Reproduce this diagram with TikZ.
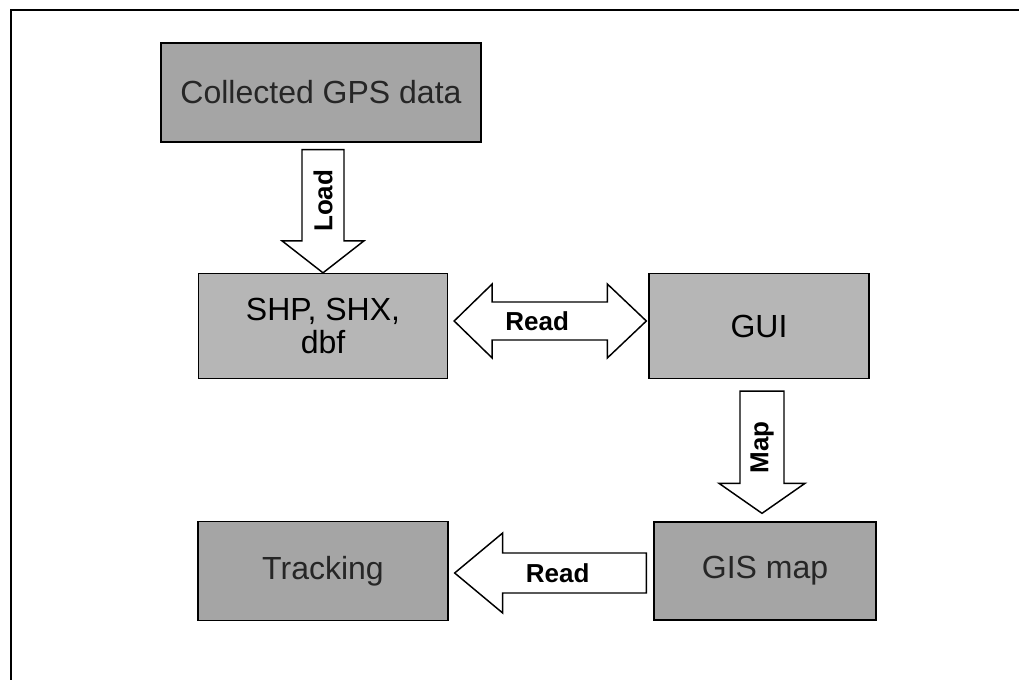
\documentclass[tikz,border=0pt]{standalone}
\usepackage{fontspec}
\setmainfont{Liberation Sans}
\usepackage{tikz}
\usetikzlibrary{calc}
\definecolor{boxdark}{RGB}{165,165,165}
\definecolor{boxlight}{RGB}{182,182,182}
\tikzset{%
  every box/.style={
    draw,
    line width=1pt,
    inner sep=0pt,
    align=center,
    font=\fontsize{24}{25}\selectfont
  },
  dark box/.style={every box, fill=boxdark, text=black!85},
  light box/.style={every box, fill=boxlight},
  block arrow/.style={draw, line width=1.1pt, fill=white, line join=miter},
  arrow label/.style={inner sep=0pt, font=\bfseries\fontsize{19.5}{20}\selectfont},
}

\begin{document}
\begin{tikzpicture}[x=0.75pt, y=-0.75pt]
\useasboundingbox (0,0) rectangle (1019,680);
\draw[line width=1.8pt] (11,680) -- (11,10) -- (1019,10);

% boxes
\node[dark box, minimum width=240pt, minimum height=74.25pt] (gps) at (321,92.5) {Collected GPS data};
\node[light box, minimum width=186.75pt, minimum height=78.75pt] (shp) at (323,326) {SHP, SHX,\\dbf};
\node[light box, minimum width=165pt, minimum height=78.75pt] (gui) at (759,326) {GUI};
\node[dark box, minimum width=166.5pt, minimum height=73.5pt] (gis) at (765,571) {GIS map};
\node[dark box, minimum width=187.5pt, minimum height=74.25pt] (trk) at (323,571) {Tracking};

% Load
\draw[block arrow] ($(shp.north |- gps.south)+(-21,7)$) -- ($(shp.north)+(-21,-32)$) -- ($(shp.north)+(-41,-32)$) -- (shp.north)
    -- ($(shp.north)+(41,-32)$) -- ($(shp.north)+(21,-32)$) -- ($(shp.north |- gps.south)+(21,7)$) -- cycle;
\node[arrow label, rotate=90] (loadlbl) at ($(shp.north)+(0,-72)$) {Load};

% Read (both ways)
\coordinate (rdl) at ($(shp.east)+(6,-5)$);
\coordinate (rdr) at ($(gui.west)+(-2,-5)$);
\draw[block arrow] (rdl) -- ($(rdl)+(38,-37)$) -- ($(rdl)+(38,-19)$) -- ($(rdr)+(-39,-19)$) -- ($(rdr)+(-39,-37)$) -- (rdr)
    -- ($(rdr)+(-39,37)$) -- ($(rdr)+(-39,19)$) -- ($(rdl)+(38,19)$) -- ($(rdl)+(38,37)$) -- cycle;
\node[arrow label] (readtop) at ($(rdl)+(83,0)$) {Read};

% Map
\coordinate (maptip) at ($(gis.north)+(-3,-8)$);
\draw[block arrow] ($(maptip |- gui.south)+(-22,12)$) -- ($(maptip)+(-22,-30)$) -- ($(maptip)+(-43,-30)$) -- (maptip)
    -- ($(maptip)+(43,-30)$) -- ($(maptip)+(22,-30)$) -- ($(maptip |- gui.south)+(22,12)$) -- cycle;
\node[arrow label, rotate=90] (maplbl) at ($(maptip)+(0,-66)$) {Map};

% Read (back)
\coordinate (rdtip) at ($(trk.east)+(6,2)$);
\coordinate (rdtail) at ($(gis.west)+(-7,2)$);
\draw[block arrow] (rdtip) -- ($(rdtip)+(48,-40)$) -- ($(rdtip)+(48,-20)$) -- ($(rdtail)+(0,-20)$) -- ($(rdtail)+(0,20)$)
    -- ($(rdtip)+(48,20)$) -- ($(rdtip)+(48,40)$) -- cycle;
\node[arrow label] (readbot) at ($(rdtip)+(103,0)$) {Read};
\end{tikzpicture}
\end{document}
